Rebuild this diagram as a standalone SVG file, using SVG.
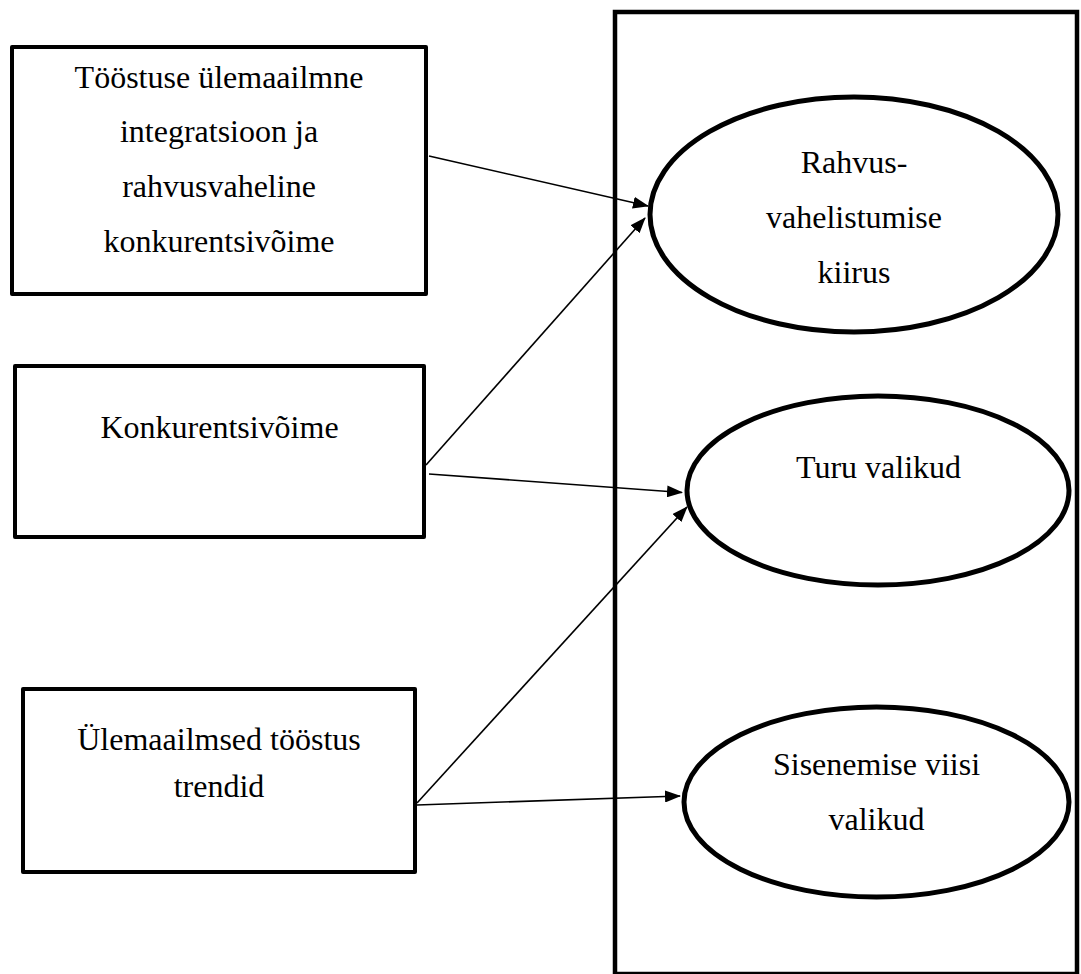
<svg xmlns="http://www.w3.org/2000/svg" width="1081" height="974" viewBox="0 0 1081 974">
<style>
.box{fill:#fff;stroke:#000;stroke-width:4;stroke-linejoin:round}
.ell{fill:#fff;stroke:#000;stroke-width:5}
.frame{fill:none;stroke:#000;stroke-width:4.5}
.t{font-family:"Liberation Serif","Times New Roman",serif;font-size:32px;fill:#000;text-anchor:middle}
.conn{stroke:#000;stroke-width:1.6;fill:none;marker-end:url(#arr)}
</style>
<defs>
<marker id="arr" viewBox="0 0 16 12" refX="15" refY="6" markerWidth="16" markerHeight="12" markerUnits="userSpaceOnUse" orient="auto">
<path d="M0,0 L16,6 L0,12 z" fill="#000"/>
</marker>
</defs>
<rect fill="#fff" x="0" y="0" width="1081" height="974"/>
<g id="frame">
<rect class="frame" x="615" y="12" width="462" height="962"/>
</g>
<g id="box1">
<rect class="box" x="12" y="47" width="414" height="247"/>
<text class="t" x="219" y="88">Tööstuse ülemaailmne</text>
<text class="t" x="219" y="142">integratsioon ja</text>
<text class="t" x="219" y="197">rahvusvaheline</text>
<text class="t" x="219" y="252">konkurentsivõime</text>
</g>
<g id="box2">
<rect class="box" x="15" y="366" width="409" height="171"/>
<text class="t" x="219.5" y="438">Konkurentsivõime</text>
</g>
<g id="box3">
<rect class="box" x="23" y="689" width="392" height="183"/>
<text class="t" x="219" y="750">Ülemaailmsed tööstus</text>
<text class="t" x="219" y="797">trendid</text>
</g>
<g id="ell1">
<ellipse class="ell" cx="854" cy="214.5" rx="204" ry="117.5"/>
<text class="t" x="854" y="173">Rahvus-</text>
<text class="t" x="854" y="228">vahelistumise</text>
<text class="t" x="854" y="283">kiirus</text>
</g>
<g id="ell2">
<ellipse class="ell" cx="878" cy="490.5" rx="191" ry="94.5"/>
<text class="t" x="878.5" y="478">Turu valikud</text>
</g>
<g id="ell3">
<ellipse class="ell" cx="876.5" cy="802" rx="192.5" ry="95"/>
<text class="t" x="876.5" y="775">Sisenemise viisi</text>
<text class="t" x="876.5" y="830">valikud</text>
</g>
<g id="connectors">
<line class="conn" x1="429" y1="156" x2="648" y2="206"/>
<line class="conn" x1="426" y1="465" x2="645" y2="218"/>
<line class="conn" x1="429" y1="474" x2="682" y2="492.5"/>
<line class="conn" x1="417" y1="803" x2="687" y2="507"/>
<line class="conn" x1="417" y1="805" x2="680" y2="796"/>
</g>
</svg>
